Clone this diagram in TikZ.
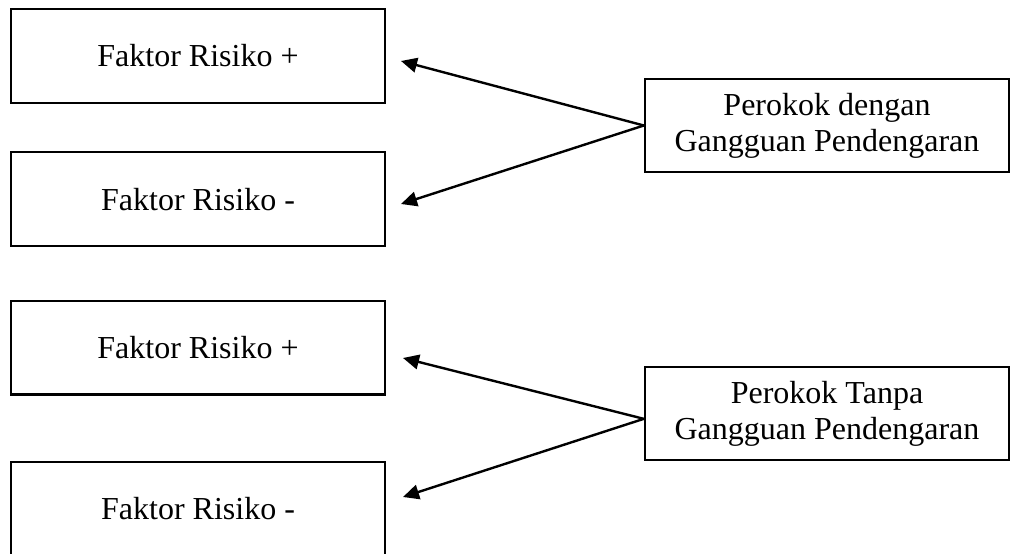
\documentclass[tikz,border=0pt]{standalone}
\usepackage{fontspec}
\setmainfont{Liberation Serif}
\usetikzlibrary{arrows.meta}

\begin{document}
\begin{tikzpicture}[x=0.375pt, y=-0.375pt,
  factor/.style={shape=rectangle, draw, line width=0.9pt, minimum width=140.3pt, minimum height=35.2pt, inner sep=0pt},
  smoker/.style={shape=rectangle, draw, line width=0.9pt, minimum width=136.5pt, minimum height=34.9pt, inner sep=0pt, align=center},
  link/.style={-{Triangle[length=6pt, width=5.5pt]}, line width=0.9pt},
  every node/.style={font=\fontsize{12}{13.5}\selectfont}]
\useasboundingbox (0,0) rectangle (1010,554);
\node [factor] (FA1) at (198,56) {Faktor Risiko +};
\node [factor, below of=FA1, node distance=53.7pt] (FA2) {Faktor Risiko -};
\node [factor, below of=FA2, node distance=55.7pt] (FB1) {Faktor Risiko +};
\node [factor, below of=FB1, node distance=60.4pt] (FB2) {Faktor Risiko -};
\node [smoker] (PA) at (827,125.5) {Perokok dengan\\Gangguan Pendengaran};
\node [smoker] (PB) at (827,413.5) {Perokok Tanpa\\Gangguan Pendengaran};

\coordinate (TA1) at (401,61);
\coordinate (TA2) at (401,204);
\coordinate (TB1) at (403,358);
\coordinate (TB2) at (403,497);
\coordinate (SB) at ([yshift=-2pt]PB.west);

\draw[link] (PA.west) -- (TA1);
\draw[link] (PA.west) -- (TA2);
\draw[link] (SB) -- (TB1);
\draw[link] (SB) -- (TB2);
\end{tikzpicture}
\end{document}
